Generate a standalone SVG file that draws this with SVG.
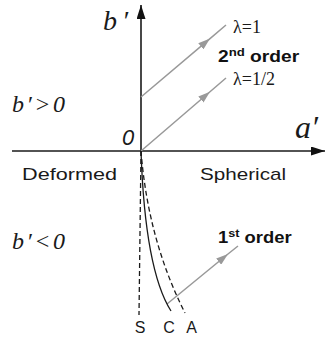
<svg xmlns="http://www.w3.org/2000/svg" width="326" height="342" viewBox="0 0 326 342">
<style>
.ax{stroke:#1a1a1a;stroke-width:1.6;fill:none}
.g{stroke:#999;stroke-width:1.5;fill:none;marker-mid:url(#gh)}
.crv{stroke:#1a1a1a;stroke-width:1.3;fill:none}
.dsh{stroke:#1a1a1a;stroke-width:1.3;fill:none;stroke-dasharray:5,3}
.it{font-family:"Liberation Serif",serif;font-style:italic;fill:#1a1a1a}
.lam{font-family:"Liberation Serif",serif;font-size:18px;fill:#1a1a1a}
.bd{font-family:"Liberation Sans",Arial,sans-serif;font-weight:bold;font-size:16px;fill:#111}
.sn{font-family:"Liberation Sans",Arial,sans-serif;font-size:17px;fill:#1a1a1a}
.lb{font-family:"Liberation Sans",Arial,sans-serif;font-size:16px;fill:#1a1a1a;text-anchor:middle}
</style>
<defs>
<marker id="gh" viewBox="0 0 12 8" refX="12" refY="4" markerWidth="12" markerHeight="8" markerUnits="userSpaceOnUse" orient="auto">
<path d="M0,0 L12,4 L0,8 Z" fill="#999"/>
</marker>
<marker id="kh" viewBox="0 0 14 9" refX="14" refY="4.5" markerWidth="14" markerHeight="9" markerUnits="userSpaceOnUse" orient="auto">
<path d="M0,0 L14,4.5 L0,9 Z" fill="#111"/>
</marker>
</defs>
<g id="axes">
<line class="ax" x1="12" y1="151" x2="325" y2="151" marker-end="url(#kh)"/>
<line class="ax" x1="141" y1="151" x2="141" y2="5" marker-end="url(#kh)"/>
</g>
<g id="connectors">
<path class="g" d="M141,97 L210,38.6 L226,25"/>
<path class="g" d="M141,151 L210,91.7 L226,78"/>
<path class="g" d="M167,304 L228,254 L238,246"/>
</g>
<g id="curves">
<path class="dsh" d="M141,151 L139,315"/>
<path class="crv" d="M141,151 Q145,270 171,311"/>
<path class="dsh" d="M141,151 Q148,240 185,313"/>
</g>
<g id="labels">
<text class="it" x="103" y="30" font-size="28" textLength="25" lengthAdjust="spacing">b′</text>
<text class="it" x="12" y="112" font-size="24" textLength="53" lengthAdjust="spacing">b′&gt;0</text>
<text class="it" x="12" y="249" font-size="24" textLength="53" lengthAdjust="spacing">b′&lt;0</text>
<text x="122" y="145" font-size="22" font-style="italic" font-family="Liberation Sans,Arial,sans-serif" fill="#1a1a1a">0</text>
<text class="it" x="295" y="138" font-size="32">a′</text>
<text class="lam" x="233" y="33">λ=1</text>
<text class="lam" x="233" y="85">λ=1/2</text>
<text class="bd" transform="translate(218,62) scale(1.2,1)">2<tspan font-size="11" dy="-6">nd</tspan><tspan dy="6"> order</tspan></text>
<text class="bd" transform="translate(218,243) scale(1.15,1)">1<tspan font-size="11" dy="-6">st</tspan><tspan dy="6"> order</tspan></text>
<text class="sn" x="22" y="180" textLength="95" lengthAdjust="spacingAndGlyphs">Deformed</text>
<text class="sn" x="200" y="180" textLength="86" lengthAdjust="spacingAndGlyphs">Spherical</text>
<text class="lb" x="140" y="333">S</text>
<text class="lb" x="169" y="333">C</text>
<text class="lb" x="191.5" y="333">A</text>
</g>
</svg>
